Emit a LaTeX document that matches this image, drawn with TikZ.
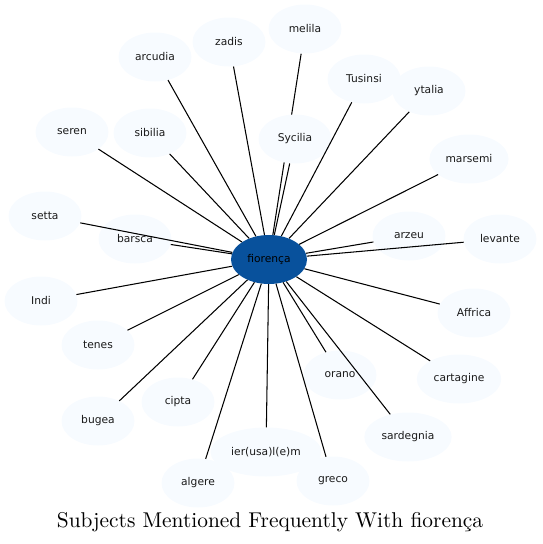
\documentclass[tikz,border=0pt]{standalone}
\usepackage{fontspec}
\newfontfamily\nodefont{DejaVu Sans}
\newfontfamily\titlefont{lmroman10-regular}[Extension=.otf]
\usetikzlibrary{shapes.geometric,backgrounds}
\definecolor{leaffill}{HTML}{F7FBFF}
\definecolor{hubfill}{HTML}{08519C}
\definecolor{labeltext}{HTML}{1A1A1A}
\tikzset{
  leaf/.style={ellipse, fill=leaffill, minimum width=73pt, minimum height=49pt,
    inner xsep=4.5pt, inner ysep=2pt, font=\nodefont\fontsize{10.7}{12}\selectfont, text=labeltext},
  hub/.style={leaf, fill=hubfill, minimum width=76pt, text=black},
  link/.style={draw=black, line width=1.05pt},
}
\begin{document}
\begin{tikzpicture}[x=1pt,y=-1pt]
\useasboundingbox (0,0) rectangle (542,544);
% leaf nodes
\node[leaf] (arcudia) at (155,57) {arcudia};
\node[leaf] (zadis) at (229,42) {zadis};
\node[leaf] (melila) at (305,29) {melila};
\node[leaf] (Tusinsi) at (364,79) {Tusinsi};
\node[leaf] (ytalia) at (429,91) {ytalia};
\node[leaf] (Sycilia) at (295,139) {Sycilia};
\node[leaf] (seren) at (72,132) {seren};
\node[leaf] (sibilia) at (150,133) {sibilia};
\node[leaf] (marsemi) at (469,159) {marsemi};
\node[leaf] (setta) at (45,216) {setta};
\node[leaf] (barsca) at (135,239) {barsca};
\node[leaf] (arzeu) at (409,236) {arzeu};
\node[leaf] (levante) at (500,239) {levante};
\node[leaf] (Indi) at (41,301) {Indi};
\node[leaf] (Affrica) at (474,313) {Affrica};
\node[leaf] (tenes) at (98,345) {tenes};
\node[leaf] (orano) at (340,375) {orano};
\node[leaf] (cartagine) at (459,379) {cartagine};
\node[leaf] (cipta) at (178,402) {cipta};
\node[leaf] (bugea) at (98,421) {bugea};
\node[leaf] (sardegnia) at (408,437) {sardegnia};
\node[leaf] (ierusalem) at (266,452) {ier(usa)l(e)m};
\node[leaf] (greco) at (333,481) {greco};
\node[leaf] (algere) at (198,483) {algere};
% hub
\node[hub] (fio) at (269,259.5) {fiorença};
% this connector runs behind the Sycilia node
\begin{pgfonlayer}{background}
  \draw[link] (fio) -- (melila);
\end{pgfonlayer}
% the other connectors lie over the nodes they cross
\foreach \n in {arcudia,zadis,Sycilia,Tusinsi,ytalia,seren,sibilia,marsemi,setta,barsca,arzeu,levante,Indi,Affrica,tenes,orano,cartagine,cipta,bugea,sardegnia,ierusalem,greco,algere}
  \draw[link] (fio) -- (\n);
% title
\node[font=\titlefont\fontsize{21.4}{25}\selectfont, anchor=base] (title) at (270,527) {Subjects Mentioned Frequently With fiorença};
\end{tikzpicture}
\end{document}
